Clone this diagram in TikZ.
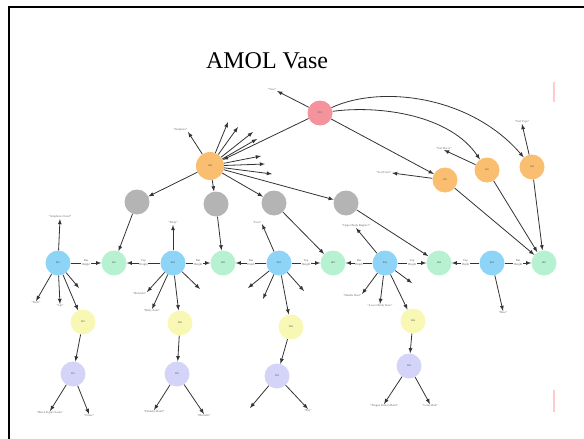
\documentclass[tikz,border=0pt]{standalone}
\usepackage{fontspec}
\setmainfont{Liberation Serif}
\usetikzlibrary{arrows}
\newcommand{\tn}{\fontsize{3}{3.4}\selectfont}
\definecolor{vred}{HTML}{F4939B}
\definecolor{vorange}{HTML}{F9BE70}
\definecolor{vgray}{HTML}{B4B4B4}
\definecolor{vblue}{HTML}{8ED4F6}
\definecolor{vgreen}{HTML}{B6F2D2}
\definecolor{vyellow}{HTML}{F8F8B4}
\definecolor{vpurple}{HTML}{D4D4F8}
\begin{document}
\begin{tikzpicture}[x=1pt,y=-1pt,
   ent/.style={circle,minimum size=25pt,inner sep=0pt,font=\fontsize{2.5}{3}\selectfont,text=black!70},
   edge/.style={draw=black!80,line width=0.8pt,-latex},
   lbl/.style={font=\tn,text=black!60,inner sep=0.6pt,align=center}]
   \useasboundingbox (0,0) rectangle (584,439);
   \draw[line width=2pt] (9,470) -- (9,7) -- (600,7);
   \draw[red!20,line width=2pt] (554,82) -- (554,102);
   \draw[red!20,line width=2pt] (554,390) -- (554,412);
   \node[font=\fontsize{24}{28}\selectfont] (title) at (267,61) {AMOL Vase};
 %
   \node[ent,fill=vred]    (vpr) at (320,113) {V01};
   \node[ent,fill=vorange,minimum size=28pt] (obj) at (210,166) {O00};
   \node[ent,fill=vorange] (o1)  at (445,180) {S01};
   \node[ent,fill=vorange] (o2)  at (487,170) {S02};
   \node[ent,fill=vorange] (o3)  at (532,167) {S03};
   \node[ent,fill=vgray]   (g1)  at (137,202) {};
   \node[ent,fill=vgray]   (g2)  at (216,204) {};
   \node[ent,fill=vgray]   (g3)  at (274,203) {};
   \node[ent,fill=vgray]   (g4)  at (346,203) {};
   \node[ent,fill=vblue]   (b1)  at ( 58,263) {B01};
   \node[ent,fill=vgreen]  (s1)  at (114,263) {H01};
   \node[ent,fill=vblue]   (b2)  at (173,263) {B02};
   \node[ent,fill=vgreen]  (s2)  at (223,263) {H02};
   \node[ent,fill=vblue]   (b3)  at (279,263) {B03};
   \node[ent,fill=vgreen]  (s3)  at (333,263) {H03};
   \node[ent,fill=vblue]   (b4)  at (385,263) {B04};
   \node[ent,fill=vgreen]  (s4)  at (439,263) {H04};
   \node[ent,fill=vblue]   (b5)  at (492,263) {B05};
   \node[ent,fill=vgreen]  (s5)  at (544,263) {H05};
   \node[ent,fill=vyellow] (y1)  at ( 83,322) {D01};
   \node[ent,fill=vyellow] (y2)  at (180,323) {D02};
   \node[ent,fill=vyellow] (y3)  at (291,327) {D03};
   \node[ent,fill=vyellow] (y4)  at (413,321) {D04};
   \node[ent,fill=vpurple] (p1)  at ( 73,374) {P01};
   \node[ent,fill=vpurple] (p2)  at (177,374) {P02};
   \node[ent,fill=vpurple] (p3)  at (277,376) {P03};
   \node[ent,fill=vpurple] (p4)  at (409,366) {P04};
 %
   \draw[edge] (vpr) -- (obj);
   \draw[edge] (vpr) -- (o1);
   \draw[edge] (vpr) .. controls (380,105) and (450,115) .. (o2);
   \draw[edge] (vpr) .. controls (380,85) and (470,95) .. (o3);
   \draw[edge] (o1) -- (s5);
   \draw[edge] (o2) -- (s5);
   \draw[edge] (o3) -- (s5);
   \draw[edge] (obj) -- (g1);
   \draw[edge] (obj) -- (g2);
   \draw[edge] (obj) -- (g3);
   \draw[edge] (obj) -- (g4);
   \draw[edge] (g1) -- (s1);
   \draw[edge] (g2) -- (s2);
   \draw[edge] (g3) -- (s3);
   \draw[edge] (g4) -- (s4);
   \draw[edge] (b1) -- node[lbl,fill=white]{Bas\\Height} (s1);
   \draw[edge] (b2) -- node[lbl,fill=white]{Top\\Height} (s1);
   \draw[edge] (b2) -- node[lbl,fill=white]{Bas\\Height} (s2);
   \draw[edge] (b3) -- node[lbl,fill=white]{Bas\\Depth} (s2);
   \draw[edge] (b3) -- node[lbl,fill=white]{Top\\Height} (s3);
   \draw[edge] (b4) -- node[lbl,fill=white]{Bas\\Depth} (s3);
   \draw[edge] (b4) -- node[lbl,fill=white]{Top\\Height} (s4);
   \draw[edge] (b5) -- node[lbl,fill=white]{Top\\Depth} (s4);
   \draw[edge] (b5) -- node[lbl,fill=white]{Bas\\Height} (s5);
   \draw[edge] (b1) -- (y1);
   \draw[edge] (b2) -- (y2);
   \draw[edge] (b3) -- (y3);
   \draw[edge] (b4) -- (y4);
   \draw[edge] (y1) -- (p1);
   \draw[edge] (y2) -- (p2);
   \draw[edge] (y3) -- (p3);
   \draw[edge] (y4) -- (p4);
 %
   % leaves with a label
   \node[lbl,anchor=south east] (tv)  at (277,91)  {"Vase"};
   \node[lbl,anchor=south east] (ta)  at (188,132) {"Amphora"};
   \node[lbl,anchor=east]       (t1)  at (392,173) {"Sort Form"};
   \node[lbl,anchor=south]      (t2)  at (444,150) {"Sort Decor"};
   \node[lbl,anchor=south]      (t3)  at (522,124) {"Sort Type"};
   \node[lbl,anchor=south]      (tb1) at ( 60,219) {"Amphora Ovoid"};
   \node[lbl,anchor=north]      (tb2) at ( 36,301) {"Neck"};
   \node[lbl,anchor=north]      (tb3) at ( 60,304) {"Lip"};
   \node[lbl,anchor=south]      (tb4) at (173,225) {"Body"};
   \node[lbl,anchor=north east] (tb5) at (147,292) {"Shoulder"};
   \node[lbl,anchor=north]      (tb6) at (152,309) {"Belly Zone"};
   \node[lbl,anchor=south east] (tb7) at (262,224) {"Foot"};
   \node[lbl,anchor=south]      (tb8) at (356,228) {"Upper Body Register"};
   \node[lbl,anchor=north east] (tb9) at (362,294) {"Handle Root"};
   \node[lbl,anchor=north]      (tbA) at (380,304) {"Lower Body Zone"};
   \node[lbl,anchor=north]      (tbB) at (503,311) {"Base"};
   \node[lbl,anchor=north]      (tp1) at ( 50,411) {"Black Figure Scene"};
   \node[lbl,anchor=north]      (tp2) at ( 89,414) {"Frieze"};
   \node[lbl,anchor=north]      (tp3) at (154,410) {"Palmette Band"};
   \node[lbl,anchor=north]      (tp4) at (204,414) {"Meander"};
   \node[lbl,anchor=north]      (tp5) at (308,409) {"Ray"};
   \node[lbl,anchor=north]      (tp6) at (384,404) {"Tongue Pattern Band"};
   \node[lbl,anchor=north]      (tp7) at (430,404) {"Lotus Bud"};
   \draw[edge] (vpr) -- (tv.south east);
   \draw[edge] (obj) -- (ta.south east);
   \draw[edge] (o1) -- (t1.east);
   \draw[edge] (o2) -- (t2.south);
   \draw[edge] (o3) -- (t3.south);
   \draw[edge] (b1) -- (tb1.south);
   \draw[edge] (b1) -- (tb2.north);
   \draw[edge] (b1) -- (tb3.north);
   \draw[edge] (b2) -- (tb4.south);
   \draw[edge] (b2) -- (tb5.north east);
   \draw[edge] (b2) -- (tb6.north);
   \draw[edge] (b3) -- (tb7.south east);
   \draw[edge] (b4) -- (tb8.south);
   \draw[edge] (b4) -- (tb9.north east);
   \draw[edge] (b4) -- (tbA.north);
   \draw[edge] (b5) -- (tbB.north);
   \draw[edge] (p1) -- (tp1.north);
   \draw[edge] (p1) -- (tp2.north);
   \draw[edge] (p2) -- (tp3.north);
   \draw[edge] (p2) -- (tp4.north);
   \draw[edge] (p3) -- (tp5.north);
   \draw[edge] (p4) -- (tp6.north);
   \draw[edge] (p4) -- (tp7.north);
 %
   % leaves with no label
   \coordinate (k1) at (228,122);
   \coordinate (k2) at (238,127);
   \coordinate (k3) at (253,132);
   \coordinate (k4) at (257,139);
   \coordinate (k5) at (261,156);
   \coordinate (k6) at (265,164);
   \coordinate (k7) at (272,174);
   \coordinate (u1) at ( 79,288);
   \coordinate (u2) at (200,289);
   \coordinate (u3) at (248,288);
   \coordinate (u4) at (263,299);
   \coordinate (u5) at (304,291);
   \coordinate (u6) at (412,283);
   \coordinate (u7) at (250,408);
   \foreach \k in {k1,k2,k3,k4,k5,k6,k7}
      \draw[edge] (obj) -- (\k);
   \draw[edge] (b1) -- (u1);
   \draw[edge] (b2) -- (u2);
   \draw[edge] (b3) -- (u3);
   \draw[edge] (b3) -- (u4);
   \draw[edge] (b3) -- (u5);
   \draw[edge] (b4) -- (u6);
   \draw[edge] (p3) -- (u7);
\end{tikzpicture}
\end{document}
